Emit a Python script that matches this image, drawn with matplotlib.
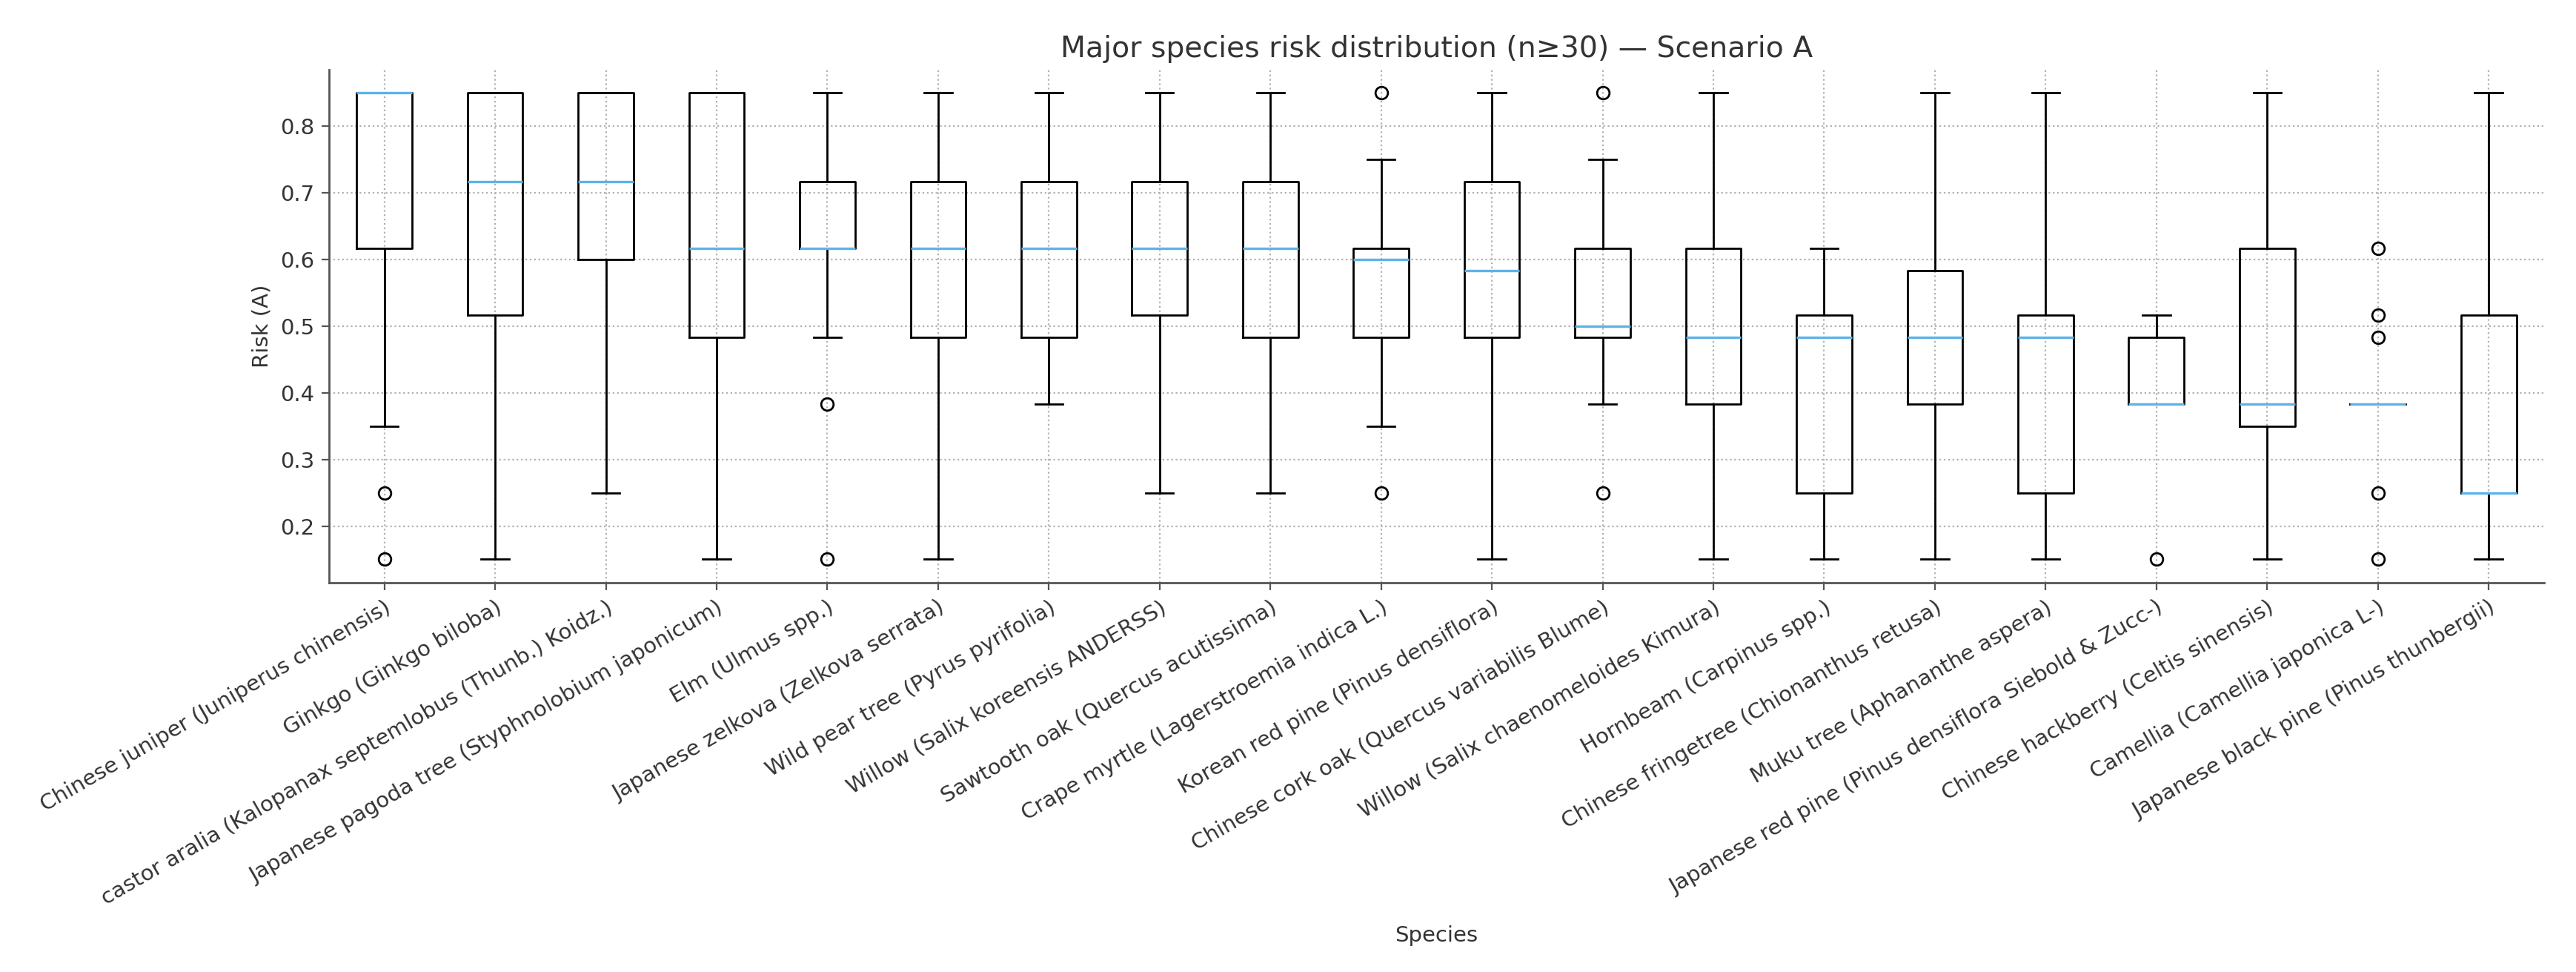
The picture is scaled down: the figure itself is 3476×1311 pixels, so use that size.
import matplotlib
matplotlib.use("Agg")
import matplotlib.pyplot as plt

species = [
    "Chinese juniper (Juniperus chinensis)",
    "Ginkgo (Ginkgo biloba)",
    "castor aralia (Kalopanax septemlobus (Thunb.) Koidz.)",
    "Japanese pagoda tree (Styphnolobium japonicum)",
    "Elm (Ulmus spp.)",
    "Japanese zelkova (Zelkova serrata)",
    "Wild pear tree (Pyrus pyrifolia)",
    "Willow (Salix koreensis ANDERSS)",
    "Sawtooth oak (Quercus acutissima)",
    "Crape myrtle (Lagerstroemia indica L.)",
    "Korean red pine (Pinus densiflora)",
    "Chinese cork oak (Quercus variabilis Blume)",
    "Willow (Salix chaenomeloides Kimura)",
    "Hornbeam (Carpinus spp.)",
    "Chinese fringetree (Chionanthus retusa)",
    "Muku tree (Aphananthe aspera)",
    "Japanese red pine (Pinus densiflora Siebold & Zucc-)",
    "Chinese hackberry (Celtis sinensis)",
    "Camellia (Camellia japonica L-)",
    "Japanese black pine (Pinus thunbergii)",
]

whislo = [0.35, 0.15, 0.25, 0.15, 0.483, 0.15, 0.383, 0.25, 0.25, 0.35,
          0.15, 0.383, 0.15, 0.15, 0.15, 0.15, 0.383, 0.15, 0.383, 0.15]
q1 = [0.617, 0.517, 0.60, 0.483, 0.617, 0.483, 0.483, 0.517, 0.483, 0.483,
      0.483, 0.483, 0.383, 0.25, 0.383, 0.25, 0.383, 0.35, 0.383, 0.25]
med = [0.85, 0.717, 0.717, 0.617, 0.617, 0.617, 0.617, 0.617, 0.617, 0.60,
       0.583, 0.50, 0.483, 0.483, 0.483, 0.483, 0.383, 0.383, 0.383, 0.25]
q3 = [0.85, 0.85, 0.85, 0.85, 0.717, 0.717, 0.717, 0.717, 0.717, 0.617,
      0.717, 0.617, 0.617, 0.517, 0.583, 0.517, 0.483, 0.617, 0.383, 0.517]
whishi = [0.85, 0.85, 0.85, 0.85, 0.85, 0.85, 0.85, 0.85, 0.85, 0.75,
          0.85, 0.75, 0.85, 0.617, 0.85, 0.85, 0.517, 0.85, 0.383, 0.85]
fliers = [[0.25, 0.15], [], [], [], [0.383, 0.15], [], [], [], [], [0.85, 0.25],
          [], [0.85, 0.25], [], [], [], [], [0.15], [], [0.617, 0.517, 0.483, 0.25, 0.15], []]

title = "Major species risk distribution (n\u226530) \u2014 Scenario A"
xlabel = "Species"
ylabel = "Risk (A)"

text_color = "#333333"
plt.rcParams['font.family'] = ['DejaVu Sans']

fig = plt.figure(figsize=(17.38, 6.555), dpi=200)
ax = fig.add_axes([0.1277, 0.4005, 0.8599, 0.5278])

stats = []
for i in range(len(species)):
    stats.append(dict(label=species[i], whislo=whislo[i], q1=q1[i], med=med[i],
                      q3=q3[i], whishi=whishi[i], fliers=fliers[i]))

ax.bxp(stats,
       boxprops=dict(color="black", linewidth=1.0),
       whiskerprops=dict(color="black", linewidth=1.0),
       capprops=dict(color="black", linewidth=1.0),
       medianprops=dict(color="#5DB3E8", linewidth=1.2),
       flierprops=dict(marker="o", markerfacecolor="none", markeredgecolor="black",
                       markersize=6, markeredgewidth=1.0))

ax.set_xlim(0.5, len(species) + 0.5)
ax.set_ylim(0.115, 0.885)
ax.set_yticks([0.2, 0.3, 0.4, 0.5, 0.6, 0.7, 0.8])

ax.grid(True, linestyle=":", linewidth=0.8, color="#b0b0b0")
ax.set_axisbelow(True)
for s in ["top", "right"]:
    ax.spines[s].set_visible(False)
for s in ["left", "bottom"]:
    ax.spines[s].set_color("#555555")
    ax.spines[s].set_linewidth(1.0)

ax.tick_params(axis="both", colors="#555555", labelcolor=text_color, labelsize=10.5, length=3.5)
plt.setp(ax.get_xticklabels(), rotation=30, ha="right", rotation_mode="anchor")

ax.set_title(title, fontsize=14.2, color=text_color)
ax.set_xlabel(xlabel, fontsize=10.5, color=text_color, labelpad=8)
ax.set_ylabel(ylabel, fontsize=10.5, color=text_color)

fig.savefig("out.png", dpi=200)
